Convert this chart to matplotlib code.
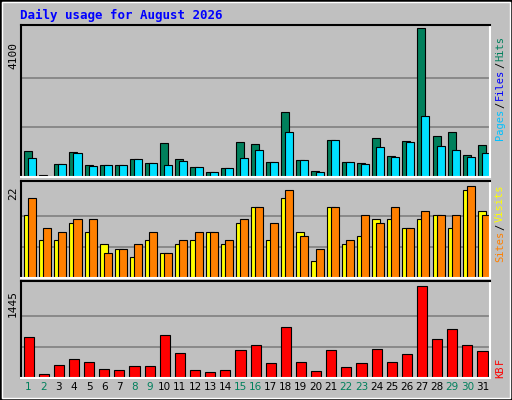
import numpy as np
import matplotlib.pyplot as plt
from matplotlib.patches import Rectangle

days = list(range(1, 32))
weekend = [1, 2, 8, 9, 15, 16, 22, 23, 29, 30]
hits = [717, 47, 354, 690, 326, 326, 326, 494, 382, 941, 494, 270, 130, 242, 969,
        913, 410, 1780, 466, 158, 1025, 410, 382, 1081, 578, 997, 4100, 1137, 1249, 606, 885]
files = [522, 19, 354, 662, 298, 326, 326, 494, 382, 326, 438, 270, 130, 242, 522,
         745, 410, 1249, 466, 130, 1025, 410, 354, 829, 550, 969, 1668, 857, 745, 550, 662]
pages = [30, 5, 10, 10, 10, 10, 10, 10, 10, 10, 10, 10, 5, 10, 10,
         10, 10, 10, 10, 5, 10, 10, 10, 10, 10, 10, 10, 10, 30, 10, 10]
sites = [15, 9, 9, 13, 11, 8, 7, 5, 9, 6, 8, 9, 11, 8, 13,
         17, 9, 19, 11, 4, 17, 8, 10, 14, 14, 12, 14, 15, 12, 21, 16]
visits = [19, 12, 11, 14, 14, 6, 7, 8, 11, 6, 9, 11, 11, 9, 14,
          17, 13, 21, 10, 7, 17, 9, 15, 13, 17, 12, 16, 15, 15, 22, 15]
kbytes = [649, 63, 211, 290, 258, 148, 132, 195, 195, 670, 385, 132, 100, 132, 432,
          512, 227, 796, 258, 116, 432, 179, 227, 448, 258, 369, 1445, 606, 765, 512, 417]

BG = "#C0C0C0"
W, H = 512, 400
fig = plt.figure(figsize=(W / 100, H / 100), dpi=100, facecolor=BG)
mono = "DejaVu Sans Mono"

# outer border
fig.patches.append(Rectangle((0, 0), 1, 1, transform=fig.transFigure, fill=False,
                             edgecolor="black", lw=2))
fig.patches.append(Rectangle((2 / W, 2 / H), 1 - 4 / W, 1 - 4 / H, transform=fig.transFigure,
                             fill=False, edgecolor="white", lw=1))

fig.text(20 / W, 1 - 15 / H, "Daily usage for August 2026", color="#0000FF",
         fontsize=9, fontweight="bold", family=mono, va="center")


def panel(y0, y1):
    ax = fig.add_axes([21 / W, 1 - y1 / H, (490 - 21) / W, (y1 - y0) / H], facecolor=BG)
    ax.set_xlim(0.5, 31.5)
    ax.set_xticks([])
    ax.set_yticks([])
    for s in ["top", "left"]:
        ax.spines[s].set_color("black")
    for s in ["bottom", "right"]:
        ax.spines[s].set_color("white")
    for sp in ax.spines.values():
        sp.set_linewidth(1.5)
    return ax


x = np.array(days)
ax1 = panel(25, 177)
ax1.set_ylim(0, 4100 * 1.02)
for g in (4100 / 3, 8200 / 3):
    ax1.axhline(g, color="#808080", lw=1.2, zorder=0)
ax1.bar(x - 0.3, hits, width=0.53, align="edge", color="#00805C", edgecolor="black", lw=0.8)
ax1.bar(x - 0.03, files, width=0.53, align="edge", color="#00E0FF", edgecolor="black", lw=0.8)
ax1.bar(x - 0.3, pages, width=0.1, align="edge", color="#00C0FF", edgecolor="black", lw=0.3)

ax2 = panel(181, 278)
ax2.set_ylim(0, 22 * 1.05)
for g in (22 / 3, 44 / 3):
    ax2.axhline(g, color="#808080", lw=1.2, zorder=0)
ax2.bar(x - 0.3, sites, width=0.53, align="edge", color="#FFFF00", edgecolor="black", lw=0.8)
ax2.bar(x - 0.03, visits, width=0.53, align="edge", color="#FF8000", edgecolor="black", lw=0.8)

ax3 = panel(281, 378)
ax3.set_ylim(0, 1445 * 1.05)
for g in (1445 / 3, 2890 / 3):
    ax3.axhline(g, color="#808080", lw=1.2, zorder=0)
ax3.bar(x - 0.33, kbytes, width=0.67, align="edge", color="#FF0000", edgecolor="black", lw=0.8)

for d in days:
    ax3.text(d, -0.04, str(d), transform=ax3.get_xaxis_transform(), ha="center", va="top",
             fontsize=7.5, color="#00805C" if d in weekend else "black")

# left axis max labels
for y, txt in [(42, "4100"), (186, "22"), (290, "1445")]:
    fig.text(13 / W, 1 - y / H, txt, rotation=90, ha="center", va="top", fontsize=8, family=mono)

# right legends (rotated, reading bottom to top), placed by measured extents
renderer = fig.canvas.get_renderer()


def vlegend(ybot, parts):
    y = ybot
    for t, c in parts:
        txt = fig.text(500 / W, 1 - y / H, t, rotation=90, ha="center", va="bottom",
                       fontsize=7.5, family=mono, color=c)
        y -= txt.get_window_extent(renderer).height + 1


vlegend(140, [("Pages", "#00C0FF"), ("/", "black"), ("Files", "#0000FF"), ("/", "black"), ("Hits", "#00805C")])
vlegend(262, [("Sites", "#FF8000"), ("/", "black"), ("Visits", "#FFFF00")])
vlegend(378, [("KB", "#FF0000"), ("F", "#FF0000")])

fig.savefig("out.png", dpi=100, facecolor=BG)
